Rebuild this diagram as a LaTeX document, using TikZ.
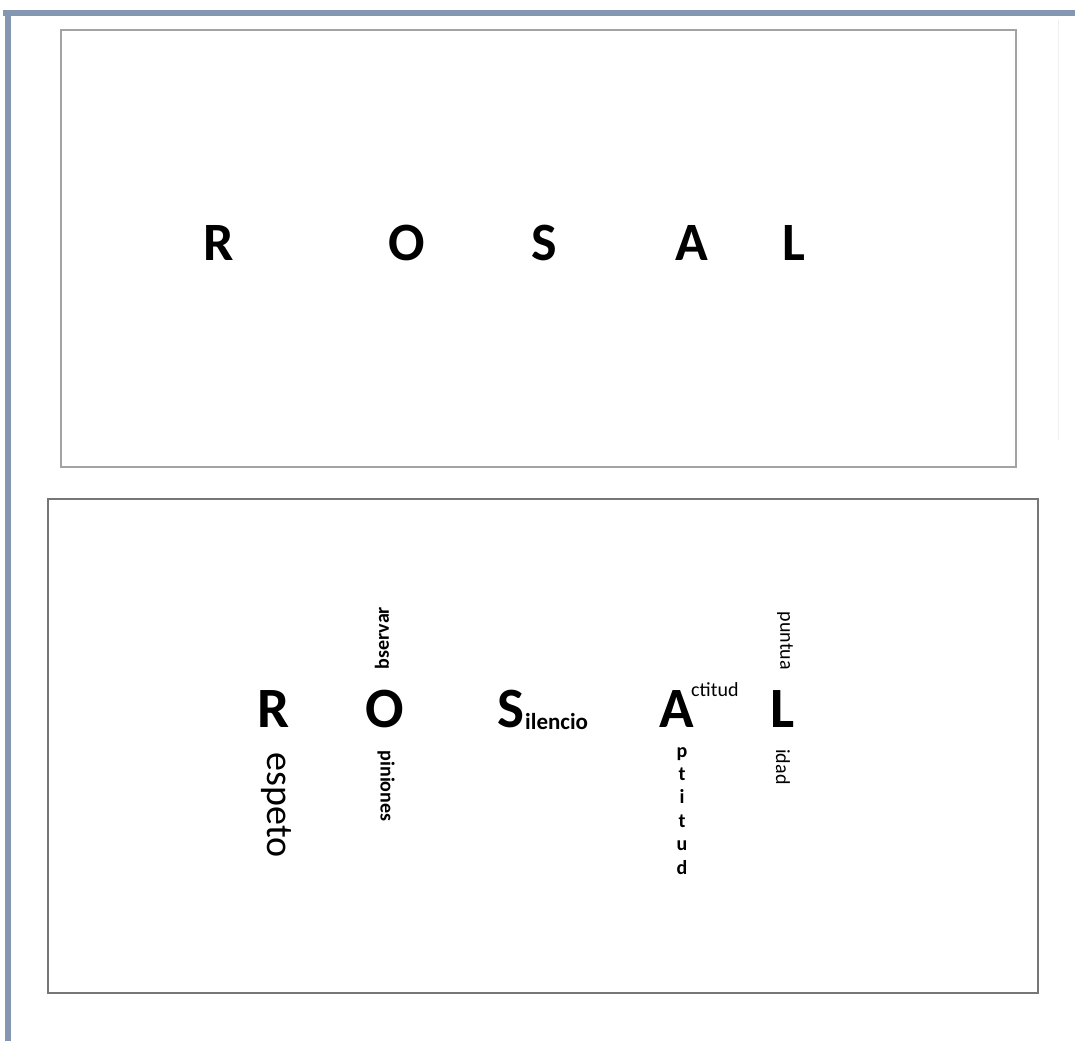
\documentclass[tikz,border=0pt]{standalone}
\usepackage{fontspec}
\setmainfont{Carlito}
\usepackage{tikz}
\definecolor{framecol}{HTML}{8497B0}
\definecolor{topedge}{HTML}{A3A3A3}
\definecolor{botedge}{HTML}{767676}
\tikzset{
    bigletter/.style={font=\bfseries\fontsize{54}{54}\selectfont, inner sep=0pt, anchor=base},
    initial/.style={font=\bfseries\fontsize{57}{57}\selectfont, inner sep=0pt, anchor=base},
    restword/.style={font=\fontsize{20}{20}\selectfont, inner sep=0pt},
    restbold/.style={font=\bfseries\fontsize{20}{20}\selectfont, inner sep=0pt}
}

\begin{document}
\begin{tikzpicture}[x=1pt,y=-1pt]

\useasboundingbox (0,0) rectangle (1075,1041);

% Page frame
\fill[framecol] (3,10) rectangle (1075,16);
\fill[framecol] (5,10) rectangle (11,1041);
\draw[black!6] (1058,20) -- (1058,440);

% Upper box
\draw[topedge, line width=2pt] (61,30) rectangle (1016,467);

\node[bigletter] (topR) at (219,260) {R};
\node[bigletter] (topO) at (407,260) {O};
\node[bigletter] (topS) at (544,260) {S};
\node[bigletter] (topA) at (692,260) {A};
\node[bigletter] (topL) at (794,260) {L};

% Lower box
\draw[botedge, line width=1.3pt] (48,499) rectangle (1038,993);

% R
\node[initial] (R) at (274,727) {R};
\node[restword, font=\fontsize{38}{38}\selectfont, rotate=-90] (Rword) at (276,805) {espeto};

% O
\node[initial] (O) at (385,727) {O};
\node[restbold, rotate=90] (Oup) at (382,638) {bservar};
\node[restbold, rotate=-90] (Odown) at (386,786) {piniones};

% S
\node[initial] (S) at (511,727) {S};
\node[restbold, font=\bfseries\fontsize{23}{23}\selectfont, anchor=base west] (Sword) at (525,729) {ilencio};

% A
\node[initial] (A) at (677,727) {A};
\node[restword, anchor=base west] (Aup) at (691,696) {ctitud};
\foreach \ch [count=\i] in {p,t,i,t,u,d}
{
\node[restbold, anchor=base] (Adown\i) at (682,757+23.4*\i-23.4) {\ch};
}

% L
\node[initial] (L) at (783,727) {L};
\node[restword, rotate=-90] (Lup) at (785,641) {puntua};
\node[restword, rotate=-90] (Ldown) at (783,767) {idad};

\end{tikzpicture}
\end{document}
